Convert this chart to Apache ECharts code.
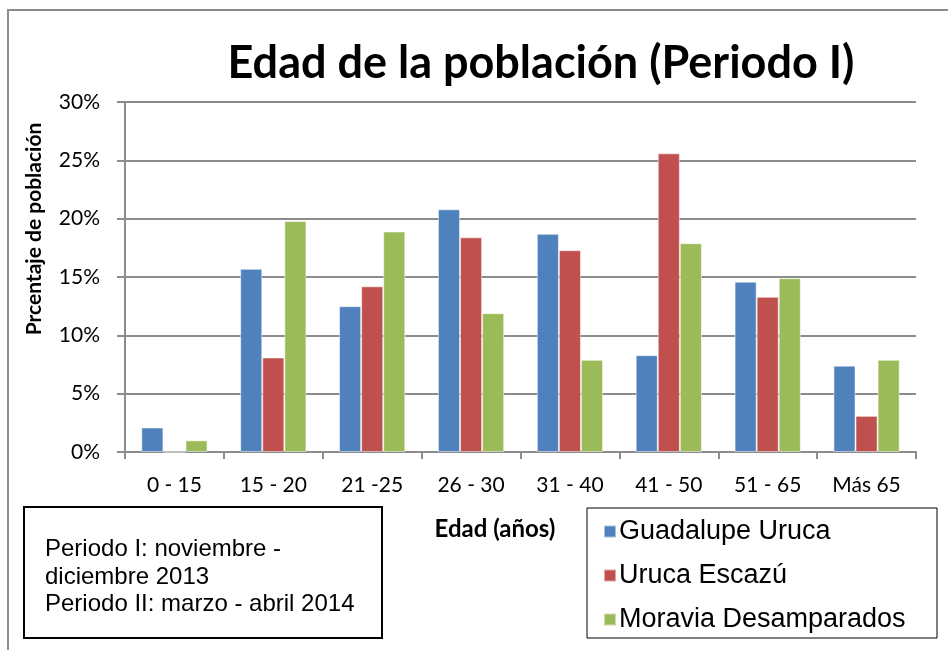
<!DOCTYPE html>
<html>
<head>
<meta charset="utf-8">
<script src="https://cdn.jsdelivr.net/npm/echarts@6/dist/echarts.min.js"></script>
<style>
  * { margin: 0; padding: 0; }
  body { background: #fff; }
</style>
</head>
<body>
<div id="main" style="width:948px;height:650px;background:white;"></div>
<script>
// datos
var categorias = ["0 - 15", "15 - 20", "21 -25", "26 - 30", "31 - 40", "41 - 50", "51 - 65", "Más 65"];
var guadalupeUruca = [2.1, 15.7, 12.5, 20.8, 18.7, 8.3, 14.6, 7.4];
var urucaEscazu = [0, 8.1, 14.2, 18.4, 17.3, 25.6, 13.3, 3.1];
var moraviaDesamparados = [1.0, 19.8, 18.9, 11.9, 7.9, 17.9, 14.9, 7.9];
var yTicks = [0, 5, 10, 15, 20, 25, 30];

var chart = echarts.init(document.getElementById("main"));

function serie(nombre, datos, color) {
  return {
    name: nombre,
    type: "bar",
    data: datos,
    barGap: "0%",
    barCategoryGap: "33%",
    itemStyle: {
      color: color,
      borderColor: "rgba(255,255,255,0.5)",
      borderWidth: 1
    }
  };
}

chart.setOption({
  animation: false,
  title: {
    text: "Edad de la población (Periodo I)",
    left: 536,
    top: 36,
    textAlign: "center",
    textStyle: {
      fontFamily: "Lato",
      fontWeight: "bold",
      fontSize: 45,
      color: "#000"
    }
  },
  legend: {
    orient: "vertical",
    left: 598,
    top: 512,
    itemWidth: 12,
    itemHeight: 12,
    itemGap: 15,
    icon: "rect",
    data: ["Guadalupe Uruca", "Uruca Escazú", "Moravia Desamparados"],
    textStyle: {
      fontFamily: "Liberation Sans",
      fontSize: 27,
      lineHeight: 29,
      color: "#000",
      padding: [0, 0, 0, -2]
    }
  },
  grid: {
    left: 125,
    right: 32,
    top: 102,
    bottom: 198
  },
  xAxis: {
    type: "category",
    data: categorias,
    axisLine: { lineStyle: { color: "#8c8c8c", width: 2 } },
    axisTick: { show: true, length: 7, lineStyle: { color: "#8c8c8c", width: 2 } },
    axisLabel: {
      fontFamily: "Lato",
      fontSize: 21,
      color: "#000",
      margin: 23
    }
  },
  yAxis: {
    type: "value",
    min: yTicks[0],
    max: yTicks[yTicks.length - 1],
    interval: 5,
    axisLine: { show: true, lineStyle: { color: "#8c8c8c", width: 2 } },
    axisTick: { show: true, length: 8, lineStyle: { color: "#8c8c8c", width: 2 } },
    splitLine: { lineStyle: { color: "#8c8c8c", width: 2 } },
    axisLabel: {
      fontFamily: "Lato",
      fontSize: 21,
      color: "#000",
      margin: 25,
      formatter: "{value}%"
    }
  },
  graphic: [
    {
      type: "rect",
      shape: { x: 8, y: 10, width: 945, height: 660 },
      style: { fill: "none", stroke: "#8c8c8c", lineWidth: 2 },
      silent: true
    },
    {
      // titulo del eje y
      type: "text",
      x: 34,
      y: 229,
      rotation: Math.PI / 2,
      style: {
        text: "Prcentaje de población",
        font: "bold 21px Lato",
        fill: "#000",
        align: "center",
        verticalAlign: "middle"
      }
    },
    {
      // titulo del eje x
      type: "text",
      x: 495,
      y: 529,
      style: {
        text: "Edad (años)",
        font: "bold 24px Lato",
        fill: "#000",
        align: "center",
        verticalAlign: "middle"
      }
    },
    {
      type: "rect",
      shape: { x: 24, y: 507, width: 358, height: 131 },
      style: { fill: "#fff", stroke: "#000", lineWidth: 2 }
    },
    {
      type: "text",
      left: 45,
      top: 536,
      style: {
        text: "Periodo I: noviembre -\ndiciembre 2013\nPeriodo II: marzo - abril 2014",
        font: "24px 'Liberation Sans'",
        lineHeight: 27.5,
        fill: "#000"
      }
    },
    {
      type: "rect",
      shape: { x: 587, y: 508, width: 350, height: 130 },
      style: { fill: "none", stroke: "#000", lineWidth: 1 },
      z: -1
    }
  ],
  series: [
    serie("Guadalupe Uruca", guadalupeUruca, "#4F81BD"),
    serie("Uruca Escazú", urucaEscazu, "#C0504D"),
    serie("Moravia Desamparados", moraviaDesamparados, "#9BBB59")
  ]
});
</script>
</body>
</html>
